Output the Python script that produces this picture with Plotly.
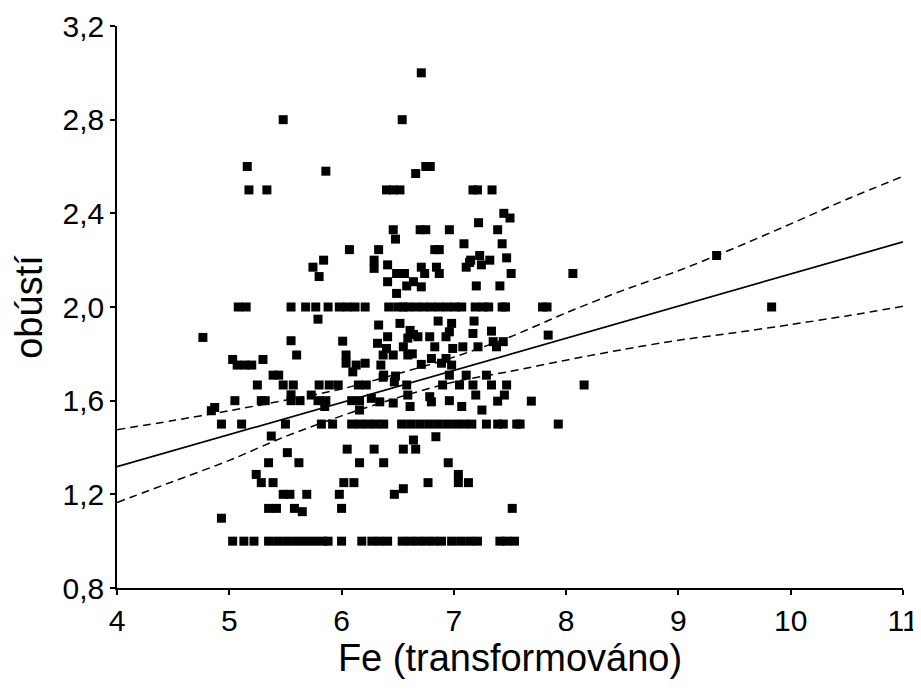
import plotly.graph_objects as go

# ---- scatter data (Fe transformed vs. obústí) ----
pts_top = [
    (6.71, 3.0), (5.48, 2.8), (6.54, 2.8),
    (5.16, 2.6), (6.75, 2.6), (6.79, 2.6), (5.86, 2.58), (6.66, 2.57),
    (5.175, 2.5), (5.335, 2.5), (6.40, 2.5), (6.46, 2.5), (6.52, 2.5), (7.17, 2.5), (7.21, 2.5), (7.34, 2.5),
    (7.445, 2.40), (7.50, 2.38), (7.22, 2.36),
    (6.46, 2.33), (6.70, 2.33), (6.75, 2.33), (6.96, 2.33), (7.39, 2.33), (6.48, 2.29),
    (7.09, 2.27), (7.43, 2.27),
    (6.07, 2.245), (6.33, 2.245), (6.83, 2.245), (6.87, 2.245),
    (5.84, 2.20), (6.29, 2.20), (7.15, 2.20), (7.23, 2.22), (7.32, 2.20), (7.47, 2.21),
    (5.745, 2.17), (6.29, 2.165), (6.41, 2.18), (6.71, 2.17), (6.74, 2.143), (6.845, 2.17),
    (6.87, 2.143), (7.11, 2.17), (7.14, 2.19), (7.245, 2.18), (7.51, 2.143), (8.06, 2.143),
    (5.80, 2.13), (6.41, 2.108), (6.49, 2.143), (6.56, 2.143), (6.58, 2.09), (6.64, 2.108),
    (6.71, 2.086), (6.49, 2.058), (7.20, 2.09), (7.41, 2.09),
]
row_2_0_x = [5.08, 5.15, 5.55, 5.68, 5.77, 5.88, 5.98, 6.05, 6.12, 6.21, 6.42, 6.50, 6.55,
             6.59, 6.66, 6.73, 6.80, 6.87, 6.94, 7.01, 7.07, 7.19, 7.26, 7.31, 7.43, 7.46,
             7.79, 7.83, 9.83]
pts_mid = [
    (5.79, 1.948), (6.33, 1.923), (6.52, 1.93), (6.86, 1.94), (6.98, 1.93), (7.18, 1.94),
    (4.765, 1.87), (5.55, 1.856), (6.01, 1.854), (6.41, 1.873), (6.61, 1.90), (6.59, 1.867),
    (6.32, 1.845), (6.64, 1.883), (6.68, 1.873), (6.785, 1.873), (6.93, 1.873), (6.96, 1.894),
    (7.17, 1.887), (7.335, 1.897), (7.35, 1.852), (7.44, 1.852), (7.38, 1.83), (7.84, 1.88),
    (9.34, 2.22),
    (5.60, 1.795), (6.04, 1.795), (6.37, 1.795), (6.46, 1.795), (6.40, 1.823), (6.55, 1.83),
    (6.59, 1.795), (6.63, 1.80), (6.83, 1.83), (6.99, 1.823), (7.08, 1.83), (7.215, 1.83),
    (6.80, 1.78), (6.93, 1.78), (5.03, 1.776), (5.30, 1.776),
    (5.07, 1.752), (5.14, 1.752), (5.20, 1.752), (6.04, 1.76), (6.13, 1.752), (6.21, 1.76),
    (6.35, 1.752), (6.71, 1.755), (6.89, 1.76), (6.98, 1.752),
    (6.10, 1.723), (6.375, 1.709), (6.48, 1.705), (6.96, 1.709), (7.11, 1.709), (7.29, 1.709),
    (5.39, 1.709), (5.44, 1.709), (6.37, 1.70), (6.47, 1.68),
    (5.25, 1.667), (5.48, 1.667), (5.57, 1.667), (5.80, 1.667), (5.89, 1.667), (5.97, 1.667),
    (6.15, 1.667), (6.22, 1.667), (6.58, 1.667), (6.90, 1.667), (7.05, 1.667), (7.17, 1.667),
    (7.335, 1.667), (7.47, 1.667), (8.16, 1.667),
    (5.05, 1.60), (5.285, 1.60), (5.32, 1.60), (5.55, 1.625), (5.55, 1.60), (5.63, 1.60),
    (5.73, 1.624), (5.79, 1.60), (5.86, 1.60), (5.85, 1.575), (6.09, 1.60), (6.16, 1.60),
    (6.16, 1.56), (6.265, 1.61), (6.34, 1.595), (6.46, 1.59), (6.59, 1.624), (6.61, 1.575),
    (6.785, 1.617), (6.80, 1.595), (6.96, 1.60), (7.195, 1.624), (7.39, 1.598), (7.45, 1.624),
    (7.69, 1.598), (7.07, 1.575), (7.25, 1.56), (4.87, 1.571), (4.84, 1.557),
]
row_1_5_x = [4.93, 5.11, 5.50, 5.82, 5.92, 6.09, 6.16, 6.23, 6.30, 6.375, 6.535, 6.615,
             6.695, 6.775, 6.855, 6.935, 7.015, 7.09, 7.16, 7.29, 7.39, 7.44, 7.56, 7.59, 7.93]
pts_low = [
    (5.374, 1.449), (6.84, 1.446), (6.64, 1.432),
    (5.517, 1.378), (6.05, 1.393), (6.29, 1.393), (6.55, 1.393), (6.66, 1.393),
    (5.35, 1.335), (5.62, 1.335), (6.16, 1.335), (6.375, 1.335), (6.95, 1.335),
    (5.24, 1.285), (7.04, 1.285),
    (5.285, 1.25), (5.39, 1.25), (6.02, 1.25), (6.11, 1.25), (6.77, 1.25), (7.04, 1.25), (7.13, 1.25),
    (5.48, 1.2), (5.54, 1.2), (5.69, 1.2), (5.98, 1.2), (6.47, 1.2), (6.55, 1.224),
    (5.35, 1.14), (5.42, 1.14), (5.58, 1.14), (5.65, 1.126), (6.0, 1.14), (7.52, 1.14),
    (4.93, 1.098),
]
row_1_0_x = [5.03, 5.13, 5.22, 5.35, 5.43, 5.51, 5.59, 5.67, 5.75, 5.83, 5.88, 6.0, 6.18,
             6.27, 6.34, 6.41, 6.54, 6.61, 6.68, 6.75, 6.82, 6.89, 6.98, 7.06, 7.14, 7.21,
             7.41, 7.47, 7.54]

# ---- regression line and 95% confidence band ----
fit_x = [4.0, 11.0]
fit_y = [1.318, 2.278]
band_x = [4.0, 4.5, 5.0, 5.5, 6.0, 6.5, 7.0, 7.5, 8.0, 8.5, 9.0, 9.5, 10.0, 10.5, 11.0]
band_upper = [1.476, 1.515, 1.557, 1.602, 1.650, 1.715, 1.786, 1.872, 1.975, 2.070,
              2.155, 2.252, 2.355, 2.460, 2.558]
band_lower = [1.165, 1.255, 1.345, 1.447, 1.535, 1.613, 1.680, 1.725, 1.773, 1.818,
              1.858, 1.890, 1.925, 1.962, 2.003]

x_title = "Fe (transformováno)"
y_title = "obústí"

xs = [p[0] for p in pts_top] + row_2_0_x + [p[0] for p in pts_mid] + row_1_5_x \
     + [p[0] for p in pts_low] + row_1_0_x
ys = [p[1] for p in pts_top] + [2.0] * len(row_2_0_x) + [p[1] for p in pts_mid] \
     + [1.5] * len(row_1_5_x) + [p[1] for p in pts_low] + [1.0] * len(row_1_0_x)

fig = go.Figure()
fig.add_trace(go.Scatter(x=xs, y=ys, mode="markers",
                         marker=dict(symbol="square", size=9, color="black",
                                     line=dict(width=0)),
                         showlegend=False, hoverinfo="skip"))
fig.add_trace(go.Scatter(x=fit_x, y=fit_y, mode="lines",
                         line=dict(color="black", width=1.7), showlegend=False))
for band in (band_upper, band_lower):
    fig.add_trace(go.Scatter(x=band_x, y=band, mode="lines",
                             line=dict(color="black", width=1.5, dash="8px,5px",
                                       shape="spline", smoothing=0.8),
                             showlegend=False))

font_family = "Liberation Sans, Arial, sans-serif"
# the page body adds an 8px offset, so the figure is sized to fill the rest of the window
fig.update_layout(
    width=913, height=682,
    margin=dict(l=109, r=18, t=18, b=102),
    paper_bgcolor="white", plot_bgcolor="white",
    separators=", ",
    font=dict(family=font_family, color="black"),
    xaxis=dict(range=[4, 11], tick0=4, dtick=1, showgrid=False, zeroline=False,
               showline=True, linecolor="black", linewidth=1.5, automargin=False,
               ticks="outside", ticklen=5, tickwidth=1.5, tickcolor="black",
               tickfont=dict(size=30), title=dict(text=x_title, font=dict(size=38), standoff=6)),
    yaxis=dict(range=[0.8, 3.2], tick0=0.8, dtick=0.4, tickformat=".1f",
               showgrid=False, zeroline=False, automargin=False,
               showline=True, linecolor="black", linewidth=1.5,
               ticks="outside", ticklen=5, tickwidth=1.5, tickcolor="black",
               tickfont=dict(size=30), title=dict(text=y_title, font=dict(size=38), standoff=14)),
)
fig.write_html("out.html")
